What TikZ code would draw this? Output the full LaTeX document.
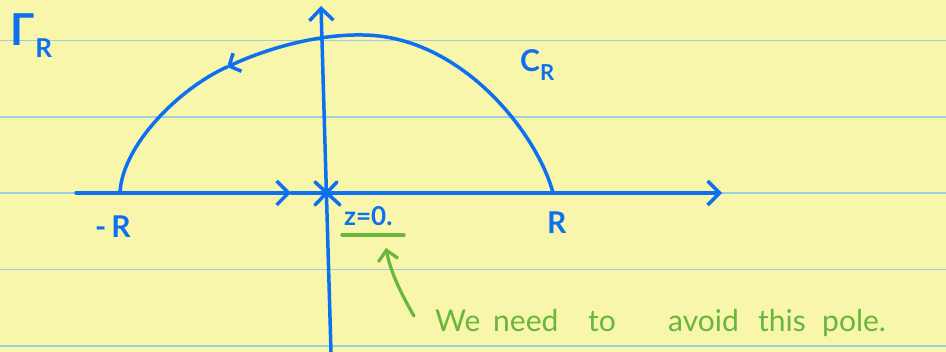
\documentclass[tikz,border=0pt]{standalone}
\usepackage{fontspec}
\setmainfont{Lato}
\usetikzlibrary{arrows.meta}
\definecolor{paper}{RGB}{248,246,170}
\definecolor{ruling}{RGB}{160,205,228}
\definecolor{ink}{RGB}{12,112,240}
\definecolor{gink}{RGB}{104,182,62}
\begin{document}
\begin{tikzpicture}[x=1pt,y=-1pt,
  pen/.style={ink,line width=3.5pt,line cap=round,line join=round},
  gpen/.style={gink,line width=3.2pt,line cap=round,line join=round},
  barb/.style={-{Straight Barb[length=12pt,width=24pt]}},
  sbarb/.style={-{Straight Barb[length=9pt,width=20pt]}},
  lbl/.style={ink,inner sep=0pt},
  glbl/.style={gink,inner sep=0pt,font=\fontsize{30}{30}\selectfont}]
% paper
\fill[paper] (0,0) rectangle (946,352);
\useasboundingbox (0,0) rectangle (946,352);
\foreach \yy in {40.5,117,193,269.5,346}
  \draw[ruling,line width=1.3pt] (0,\yy) -- (946,\yy);
% axes
\coordinate (xa) at (76,193);
\coordinate (xm) at (291,193);
\coordinate (xb) at (722,193);
\coordinate (ya) at (331,352);
\coordinate (yb) at (321,6);
\draw[pen,barb] (xa) -- (xm);
\draw[pen,barb] (xm) -- (xb);
\draw[pen,barb] (ya) -- (yb);
% pole cross
\coordinate (p) at (327,193);
\draw[pen] (315,182) -- (340,205);
\draw[pen] (337,182) -- (315,205);
% contour C_R
\coordinate (cr) at (553,193);
\coordinate (ct) at (363,35);
\coordinate (cm) at (227,67);
\coordinate (cl) at (120,193);
\draw[pen,sbarb] (cr) .. controls (538,135) and (462,36) .. (ct)
                      .. controls (318,34) and (268,48) .. (cm);
\draw[pen] (cm) .. controls (180,88) and (122,145) .. (cl);
% labels
\node[lbl,font=\fontsize{44}{44}\selectfont\bfseries,anchor=north west] (gam) at (10,13) {Γ\hspace{1pt}\raisebox{-12pt}{\fontsize{26}{26}\selectfont R}};
\node[lbl,font=\fontsize{30}{30}\selectfont\bfseries,anchor=north west] (cC) at (520,49) {C\raisebox{-9pt}{\fontsize{22}{22}\selectfont R}};
\node[lbl,font=\fontsize{30}{30}\selectfont\bfseries,anchor=north west] (mR) at (95,216) {-\,R};
\node[lbl,font=\fontsize{30}{30}\selectfont\bfseries,anchor=north west] (pR) at (547,212) {R};
\node[lbl,font=\fontsize{26}{26}\selectfont\bfseries,anchor=north west] (z0) at (344,206) {z=0.};
% green annotation
\coordinate (u1) at (342,235);
\coordinate (u2) at (404,235);
\draw[gpen] (u1) -- (u2);
\coordinate (at) at (414,316);
\coordinate (ah) at (386,248);
\draw[gpen,-{Straight Barb[length=10pt,width=20pt]}] (at) .. controls (400,292) and (390,270) .. (ah);
\node[glbl,anchor=base west] (note) at (435,332) {\makebox[58pt][l]{We }\makebox[95pt][l]{need }\makebox[80pt][l]{to }\makebox[90pt][l]{avoid }\makebox[64pt][l]{this }pole.};
\end{tikzpicture}
\end{document}
